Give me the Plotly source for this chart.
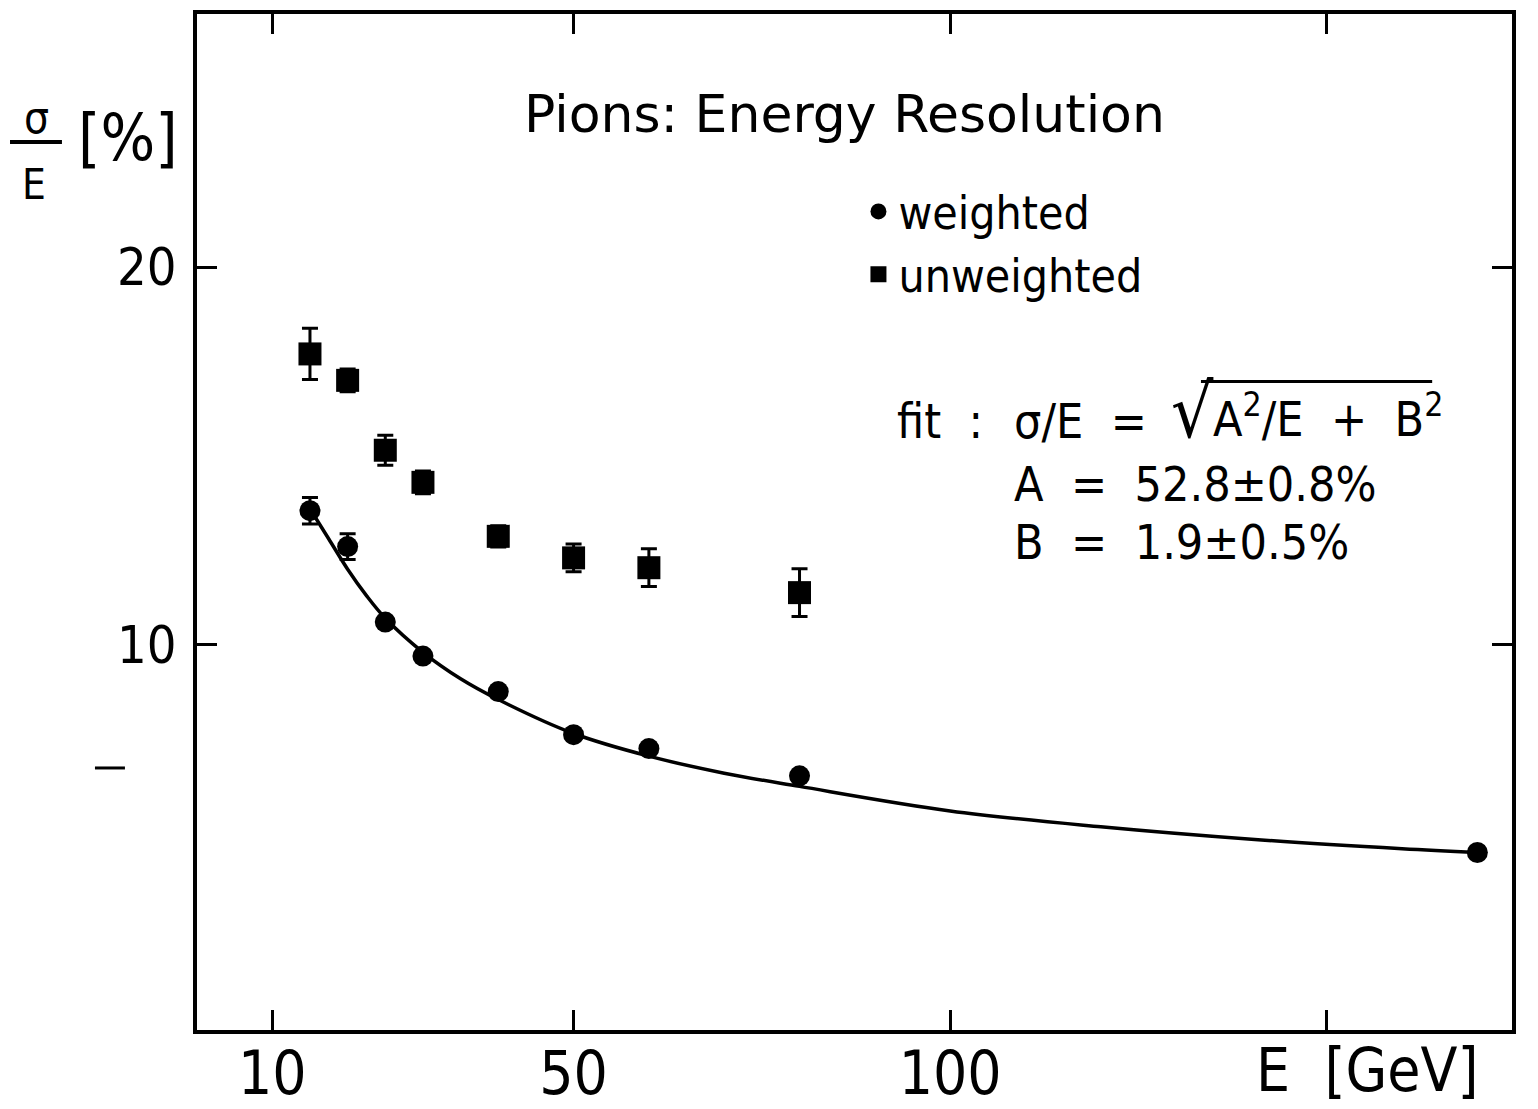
import plotly.graph_objects as go

# ---- data ----
E_weighted = [15, 20, 25, 30, 40, 50, 60, 80, 170]
sigma_weighted = [13.55, 12.6, 10.6, 9.7, 8.76, 7.62, 7.25, 6.53, 4.5]
err_weighted = [0.35, 0.34, 0, 0, 0, 0, 0, 0, 0]

E_unweighted = [15, 20, 25, 30, 40, 50, 60, 80]
sigma_unweighted = [17.7, 17.0, 15.15, 14.3, 12.87, 12.3, 12.04, 11.38]
err_unweighted = [0.68, 0.3, 0.4, 0.3, 0.28, 0.37, 0.5, 0.63]

fit_E = [15, 17.5, 20, 22.5, 25, 30, 35, 40, 50, 60, 70, 80, 100, 120, 140, 160, 170]
fit_sigma = [13.6, 12.8, 12.0, 11.3, 10.7, 9.8, 9.1, 8.55, 7.65, 7.05, 6.6, 6.25, 5.6, 5.18, 4.85, 4.6, 4.5]

x_tickvals = [10, 50, 100, 150]
x_ticktext = ["10", "50", "100", ""]
y_tickvals = [10, 20]
y_ticktext = ["10", "20"]

FONT = "DejaVu Sans Condensed, DejaVu Sans, sans-serif"
FONT_WIDE = "DejaVu Sans, sans-serif"
INK = "black"

fig = go.Figure()

fig.add_trace(go.Scatter(
    x=fit_E, y=fit_sigma, mode="lines", line=dict(color=INK, width=3.5, shape="spline"),
    showlegend=False, hoverinfo="skip"))

fig.add_trace(go.Scatter(
    x=E_weighted, y=sigma_weighted, mode="markers", name="weighted",
    marker=dict(symbol="circle", size=21, color=INK),
    error_y=dict(type="data", array=err_weighted, color=INK, thickness=3, width=8)))

fig.add_trace(go.Scatter(
    x=E_unweighted, y=sigma_unweighted, mode="markers", name="unweighted",
    marker=dict(symbol="square", size=23, color=INK),
    error_y=dict(type="data", array=err_unweighted, color=INK, thickness=3, width=8)))

axis_common = dict(showline=True, linecolor=INK, linewidth=4, mirror="allticks",
                   ticks="inside", ticklen=20, tickwidth=3, tickcolor=INK,
                   showgrid=False, zeroline=False, automargin=False)

fig.update_xaxes(range=[0, 174.6], tickvals=x_tickvals, ticktext=x_ticktext,
                 ticklabelstandoff=-12,
                 tickfont=dict(family=FONT, size=60, color=INK), **axis_common)
fig.update_yaxes(range=[-0.2, 26.7], tickvals=y_tickvals, ticktext=y_ticktext,
                 ticklabelstandoff=6,
                 tickfont=dict(family=FONT, size=52, color=INK), **axis_common)

fig.update_layout(
    width=1538, height=1109,
    margin=dict(l=197, r=26, t=14, b=79),
    paper_bgcolor="white", plot_bgcolor="white",
    font=dict(family=FONT, color=INK),
    legend=dict(x=0.503, y=0.8415, xanchor="left", yanchor="top",
                font=dict(family=FONT, size=46, color=INK),
                bgcolor="rgba(0,0,0,0)", itemwidth=30),
)

anns = [
    dict(text="Pions: Energy Resolution", x=86, y=24.05, xref="x", yref="y",
         xanchor="center", yanchor="middle", font=dict(size=52, family=FONT_WIDE)),
    dict(text="fit  :", x=92.66, y=15.93, xref="x", yref="y",
         xanchor="left", yanchor="middle", font=dict(size=48)),
    dict(text="σ/E  =", x=108.2, y=15.93, xref="x", yref="y",
         xanchor="left", yanchor="middle", font=dict(size=48)),
    dict(text="√", x=132.2, y=16.18, xref="x", yref="y",
         xanchor="center", yanchor="middle", font=dict(size=74)),
    dict(text="A<sup>2</sup>/E  +  B<sup>2</sup>", x=134.6, y=16.05, xref="x", yref="y",
         xanchor="left", yanchor="middle", font=dict(size=48)),
    dict(text="A  =  52.8±0.8%", x=108.2, y=14.26, xref="x", yref="y",
         xanchor="left", yanchor="middle", font=dict(size=48)),
    dict(text="B  =  1.9±0.5%", x=108.2, y=12.72, xref="x", yref="y",
         xanchor="left", yanchor="middle", font=dict(size=48)),
    dict(text="σ", x=-0.1224, y=0.8986, xref="paper", yref="paper",
         xanchor="center", yanchor="middle", font=dict(size=44)),
    dict(text="E", x=-0.124, y=0.8317, xref="paper", yref="paper",
         xanchor="center", yanchor="middle", font=dict(size=42)),
    dict(text="[%]", x=-0.0525, y=0.878, xref="paper", yref="paper",
         xanchor="center", yanchor="middle", font=dict(size=64)),
    dict(text="E  [GeV]", x=0.8897, y=-0.0394, xref="paper", yref="paper",
         xanchor="center", yanchor="middle", font=dict(size=60)),
]
for a in anns:
    a["showarrow"] = False
    a["font"].setdefault("family", FONT)
    a["font"]["color"] = INK
    fig.add_annotation(**a)

# fraction bar of the y-axis label
fig.add_shape(type="line", xref="paper", yref="paper", x0=-0.1422, x1=-0.1027,
              y0=0.874, y1=0.874, line=dict(color=INK, width=4))
# overline of the square root in the fit formula
fig.add_shape(type="line", xref="x", yref="y", x0=133.3, x1=164.0,
              y0=16.97, y1=16.97, line=dict(color=INK, width=3))
# short stray tick mark left of the frame
fig.add_shape(type="line", xref="paper", yref="paper", x0=-0.0776, x1=-0.0548,
              y0=0.2579, y1=0.2579, line=dict(color=INK, width=3))

fig.write_html("out.html", config={"displayModeBar": False},
               post_script="document.body.style.margin='0px';")
